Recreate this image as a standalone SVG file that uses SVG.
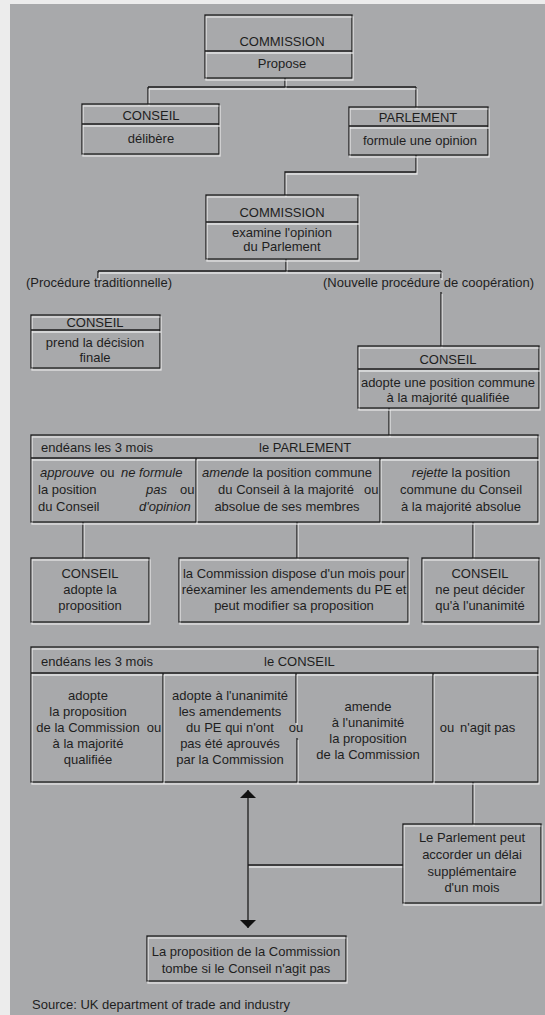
<svg xmlns="http://www.w3.org/2000/svg" width="545" height="1015" viewBox="0 0 545 1015">
<defs>
<style>
.t{font-family:"Liberation Sans",Arial,sans-serif;font-size:13px;fill:#1e1e1e}
.c{text-anchor:middle}
.i{font-style:italic}
.b{fill:none;stroke:#1c1c1c;stroke-width:1.3;filter:url(#emb)}
.k{fill:none;stroke:#1c1c1c;stroke-width:1.3}
</style>
<filter id="emb" filterUnits="userSpaceOnUse" x="0" y="0" width="545" height="1015">
<feOffset in="SourceAlpha" dx="1" dy="1.5" result="o"/>
<feFlood flood-color="#f2f2f2" flood-opacity="0.8"/>
<feComposite in2="o" operator="in" result="h"/>
<feMerge><feMergeNode in="h"/><feMergeNode in="SourceGraphic"/></feMerge>
</filter>
<marker id="arr" viewBox="0 0 8 16" refX="8" refY="8" markerWidth="8" markerHeight="16" markerUnits="userSpaceOnUse" orient="auto-start-reverse">
<path d="M0,0 L8,8 L0,16 z" fill="#111"/>
</marker>
</defs>
<rect x="0" y="0" width="545" height="1015" fill="#ececec"/>
<rect x="10" y="4" width="535" height="1011" fill="#a8a9ab"/>

<g id="connectors">
<path class="b" d="M285,78 V87 M148,87 H416 M148,87 V104 M416,87 V107"/>
<path class="b" d="M416,155 V172 H285 V195"/>
<path class="b" d="M286,259 V271 M98,271 H441 M98,271 V278 M441,271 V278 M441,292 V346"/>
<path class="b" d="M389,408 V435"/>
<path class="b" d="M83,522 V558 M297,522 V558 M473,522 V558"/>
<path class="b" d="M473,782 V824 M403,865 H248"/>
<path class="k" d="M248,790 V928" marker-start="url(#arr)" marker-end="url(#arr)"/>
</g>

<g id="commission-propose">
<rect class="b" x="205" y="15" width="147" height="63"/>
<line class="b" x1="205" y1="51" x2="352" y2="51"/>
<text class="t c" x="282" y="46">COMMISSION</text>
<text class="t c" x="282" y="68">Propose</text>
</g>

<g id="conseil-delibere">
<rect class="b" x="82" y="104" width="137" height="50"/>
<line class="b" x1="82" y1="124" x2="219" y2="124"/>
<text class="t c" x="151" y="120">CONSEIL</text>
<text class="t c" x="151" y="143">délibère</text>
</g>

<g id="parlement-opinion">
<rect class="b" x="349" y="107" width="139" height="48"/>
<line class="b" x1="349" y1="126" x2="488" y2="126"/>
<text class="t c" x="418" y="122">PARLEMENT</text>
<text class="t c" x="420" y="145">formule une opinion</text>
</g>

<g id="commission-examine">
<rect class="b" x="206" y="195" width="152" height="64"/>
<line class="b" x1="206" y1="222" x2="358" y2="222"/>
<text class="t c" x="282" y="217">COMMISSION</text>
<text class="t c" x="282" y="237">examine l'opinion</text>
<text class="t c" x="282" y="251">du Parlement</text>
</g>

<g id="label-traditionnelle">
<text class="t" x="26" y="287">(Procédure traditionnelle)</text>
</g>
<g id="label-cooperation">
<text class="t" x="323" y="287">(Nouvelle procédure de coopération)</text>
</g>

<g id="conseil-decision-finale">
<rect class="b" x="31" y="315" width="129" height="53"/>
<line class="b" x1="31" y1="330" x2="160" y2="330"/>
<text class="t c" x="95" y="327">CONSEIL</text>
<text class="t c" x="95" y="347">prend la décision</text>
<text class="t c" x="95" y="362">finale</text>
</g>

<g id="conseil-position-commune">
<rect class="b" x="358" y="346" width="181" height="62"/>
<line class="b" x1="358" y1="369" x2="539" y2="369"/>
<text class="t c" x="448" y="364">CONSEIL</text>
<text class="t c" x="448" y="387">adopte une position commune</text>
<text class="t c" x="448" y="402">à la majorité qualifiée</text>
</g>

<g id="parlement-3-mois">
<rect class="b" x="31" y="435" width="507" height="87"/>
<line class="b" x1="31" y1="458" x2="538" y2="458"/>
<line class="b" x1="196" y1="458" x2="196" y2="522"/>
<line class="b" x1="380" y1="458" x2="380" y2="522"/>
<text class="t" x="41" y="452">endéans les 3 mois</text>
<text class="t" x="259" y="452">le PARLEMENT</text>
<text class="t" y="477"><tspan class="i" x="40">approuve</tspan><tspan x="100">ou</tspan><tspan class="i" x="121">ne formule</tspan></text>
<text class="t" y="494"><tspan x="38">la position</tspan><tspan class="i" x="146">pas</tspan><tspan x="180">ou</tspan></text>
<text class="t" y="511"><tspan x="38">du Conseil</tspan><tspan class="i" x="139">d'opinion</tspan></text>
<text class="t c" x="287" y="477"><tspan class="i">amende</tspan> la position commune</text>
<text class="t c" x="286" y="494">du Conseil à la majorité</text>
<text class="t c" x="287" y="511">absolue de ses membres</text>
<text class="t" x="364" y="494">ou</text>
<text class="t c" x="461" y="477"><tspan class="i">rejette</tspan> la position</text>
<text class="t c" x="461" y="494">commune du Conseil</text>
<text class="t c" x="461" y="511">à la majorité absolue</text>
</g>

<g id="conseil-adopte-proposition">
<rect class="b" x="31" y="558" width="118" height="64"/>
<text class="t c" x="90" y="578">CONSEIL</text>
<text class="t c" x="90" y="594">adopte la</text>
<text class="t c" x="90" y="610">proposition</text>
</g>

<g id="commission-reexamine">
<rect class="b" x="179" y="558" width="229" height="64"/>
<text class="t c" x="294" y="578">la Commission dispose d'un mois pour</text>
<text class="t c" x="294" y="594">réexaminer les amendements du PE et</text>
<text class="t c" x="294" y="610">peut modifier sa proposition</text>
</g>

<g id="conseil-unanimite">
<rect class="b" x="422" y="558" width="117" height="64"/>
<text class="t c" x="480" y="578">CONSEIL</text>
<text class="t c" x="480" y="594">ne peut décider</text>
<text class="t c" x="480" y="610">qu'à l'unanimité</text>
</g>

<g id="conseil-3-mois">
<rect class="b" x="31" y="647" width="507" height="135"/>
<line class="b" x1="31" y1="673" x2="538" y2="673"/>
<line class="b" x1="163" y1="673" x2="163" y2="782"/>
<path class="b" d="M296,673 V723 M297,738 V782"/>
<line class="b" x1="433" y1="673" x2="433" y2="782"/>
<text class="t" x="41" y="666">endéans les 3 mois</text>
<text class="t" x="264" y="666">le CONSEIL</text>
<text class="t c" x="88" y="700">adopte</text>
<text class="t c" x="88" y="716">la proposition</text>
<text class="t c" x="88" y="732">de la Commission</text>
<text class="t c" x="88" y="748">à la majorité</text>
<text class="t c" x="88" y="764">qualifiée</text>
<text class="t c" x="154" y="732">ou</text>
<text class="t c" x="230" y="700">adopte à l'unanimité</text>
<text class="t c" x="230" y="716">les amendements</text>
<text class="t c" x="230" y="732">du PE qui n'ont</text>
<text class="t c" x="230" y="748">pas été aprouvés</text>
<text class="t c" x="230" y="764">par la Commission</text>
<text class="t c" x="296" y="732">ou</text>
<text class="t c" x="368" y="711">amende</text>
<text class="t c" x="368" y="727">à l'unanimité</text>
<text class="t c" x="368" y="743">la proposition</text>
<text class="t c" x="368" y="759">de la Commission</text>
<text class="t c" x="447" y="732">ou</text>
<text class="t" x="460" y="732">n'agit pas</text>
</g>

<g id="parlement-delai">
<rect class="b" x="403" y="824" width="138" height="79"/>
<text class="t c" x="472" y="842">Le Parlement peut</text>
<text class="t c" x="472" y="859">accorder un délai</text>
<text class="t c" x="472" y="876">supplémentaire</text>
<text class="t c" x="472" y="892">d'un mois</text>
</g>

<g id="proposition-tombe">
<rect class="b" x="147" y="936" width="199" height="45"/>
<text class="t c" x="246" y="956">La proposition de la Commission</text>
<text class="t c" x="246" y="973">tombe si le Conseil n'agit pas</text>
</g>

<g id="source">
<text class="t" x="32" y="1009">Source: UK department of trade and industry</text>
</g>
</svg>
